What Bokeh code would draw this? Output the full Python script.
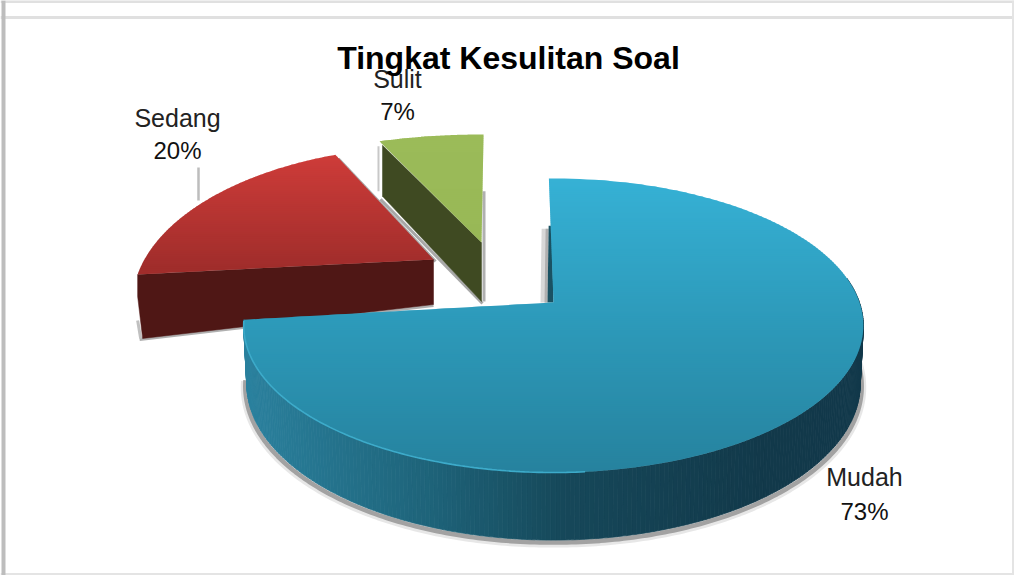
import numpy as np
from bokeh.plotting import figure
from bokeh.models import Range1d, Span
from bokeh.core.properties import value
from bokeh.embed import file_html
from bokeh.resources import INLINE

# ---- data ----
title_text = "Tingkat Kesulitan Soal"
categories = ["Mudah", "Sedang", "Sulit"]
shares = [73.4, 19.6, 7.0]
pct_labels = ["73%", "20%", "7%"]

# ---- pie geometry (style) ----
START = -1.0
geom = {
    "Mudah":  dict(cx=553, cy=302, a=306, b=143.4, k=0.1565, twist=0),
    "Sedang": dict(cx=433, cy=259, a=289, b=145, k=0.28, twist=1),
    "Sulit":  dict(cx=481, cy=242, a=355, b=162, k=0.5, twist=1.5),
}
face_stops = {
    "Mudah": ([178, 320, 472], ["#36b1d5", "#2d9aba", "#26829e"]),
    "Sedang": ([156, 268], ["#cd3c39", "#a02d2b"]),
    "Sulit": ([134, 242], ["#9bbb59", "#98b856"]),
}
WALL_X = [247, 430, 560, 760, 862]
WALL_C = ["#2a809d", "#1e6379", "#16485a", "#12394a", "#12384a"]


def hex2rgb(c):
    return [int(c[i:i + 2], 16) for i in (1, 3, 5)]


def ramp(t, xs, cols):
    rgb = np.array([hex2rgb(c) for c in cols], float)
    v = [np.interp(t, xs, rgb[:, i]) for i in range(3)]
    return "#%02x%02x%02x" % tuple(int(round(x)) for x in v)


def project(theta_deg, r, g):
    th = np.radians(np.asarray(theta_deg, float) + g["twist"])
    u, v = r * np.sin(th), r * np.cos(th)
    w = 1 + g["k"] * v
    return g["cx"] + g["a"] * u / w, g["cy"] - g["b"] * v / w


def clip_band(x, y, y0, y1):
    def clip(pts, keep, cross):
        out = []
        for i in range(len(pts)):
            p, q = pts[i], pts[(i + 1) % len(pts)]
            if keep(p):
                out.append(p)
            if keep(p) != keep(q):
                t = (cross - p[1]) / (q[1] - p[1])
                out.append((p[0] + t * (q[0] - p[0]), cross))
        return out
    pts = list(zip(x, y))
    pts = clip(pts, lambda p: p[1] >= y0, y0)
    if pts:
        pts = clip(pts, lambda p: p[1] <= y1, y1)
    return pts


def draw_face(p, name, th0, th1, band=2.0):
    g = geom[name]
    th = np.linspace(th0, th1, 160)
    rx, ry = project(th, 1.0, g)
    x = np.r_[g["cx"], rx]
    y = np.r_[g["cy"], ry]
    stops, cols = face_stops[name]
    xs, ys, fc = [], [], []
    yy = y.min()
    while yy < y.max():
        pts = clip_band(x, y, yy, yy + band + 0.8)
        if len(pts) >= 3:
            xs.append([q[0] for q in pts])
            ys.append([q[1] for q in pts])
            fc.append(ramp(yy + band / 2, stops, cols))
        yy += band
    p.patches(xs, ys, fill_color=fc, line_color=None)


p = figure(width=1014, height=575, x_range=Range1d(0, 1014), y_range=Range1d(575, 0),
           x_axis_type=None, y_axis_type=None, toolbar_location=None, output_backend="svg",
           min_border=0, outline_line_color=None, background_fill_color="white")
p.grid.visible = False

# slide frame
p.add_layout(Span(location=1, dimension="width", line_color="#e0e0e0", line_width=3))
p.add_layout(Span(location=17, dimension="width", line_color="#e0e0e0", line_width=3))
p.add_layout(Span(location=573.5, dimension="width", line_color="#e4e4e4", line_width=2))
p.add_layout(Span(location=3, dimension="height", line_color="#bdbdbd", line_width=4))
p.add_layout(Span(location=1012.5, dimension="height", line_color="#e4e4e4", line_width=2))

# slice boundaries follow the shares
edges = START + np.cumsum([0] + shares) * 3.6
span = {c: (edges[i], edges[i + 1]) for i, c in enumerate(categories)}

# ---- Sulit ----
g = geom["Sulit"]
t0, t1 = span["Sulit"]
lx, ly = project(t0, 1.0, g)
D = 59
p.line([g["cx"] + 2.5, g["cx"] + 2.5], [ly + 50, g["cy"] + D], line_color="#b0b0b0", line_width=3)
p.line([lx + 1, g["cx"] + 1], [ly + 58, g["cy"] + D + 2], line_color="#a8a8a8", line_width=3)
p.line([lx - 1, lx - 1], [ly + 5, ly + 50], line_color="#c8c8c8", line_width=2)
p.patch([lx + 3, g["cx"], g["cx"], lx + 3], [ly + 4, g["cy"], g["cy"] + D, ly + 55],
        fill_color="#3f4a22", line_color="#3f4a22", line_width=0.5)
draw_face(p, "Sulit", t0, t1)

# ---- Sedang ----
g = geom["Sedang"]
t0, t1 = span["Sedang"]
lx, ly = project(t0, 1.0, g)
tx, ty = project(t1, 1.0, g)
wall_bl = (lx + 5, ly + 64)
wall_br = (g["cx"], g["cy"] + 45)
p.line([tx + 3, g["cx"] + 2], [ty + 4, g["cy"] + 2], line_color="#a8a8a8", line_width=3)
p.line([wall_bl[0] - 3, wall_br[0]], [wall_bl[1] + 1, wall_br[1] + 1], line_color="#b0b0b0", line_width=3)
p.line([wall_bl[0] - 2, wall_bl[0] - 5], [wall_bl[1], wall_bl[1] - 18], line_color="#c0c0c0", line_width=3)
p.patch([lx, g["cx"], wall_br[0], wall_bl[0], lx],
        [ly, g["cy"], wall_br[1], wall_bl[1], ly + 22],
        fill_color="#4f1715", line_color="#4f1715", line_width=0.5)
draw_face(p, "Sedang", t0, t1)

# ---- Mudah ----
g = geom["Mudah"]
t0, t1 = span["Mudah"]
DEPTH = 57
th = np.linspace(80, t1, 240)
rx, ry = project(th, 1.0, g)
vv = np.cos(np.radians(th))
bx = g["cx"] + (rx - g["cx"]) * 0.99
by = ry + DEPTH / (1 + g["k"] * vv)
sgn = np.sign(bx - g["cx"])
p.line(bx + 2 * sgn, by + 3.5, line_color="#888888", line_width=8, line_alpha=0.2)
p.line(bx + 1.5 * sgn, by + 2.5, line_color="#a2a2a2", line_width=4.5)
wx, wy, wc = [], [], []
for i in range(len(th) - 1):
    wx.append([rx[i], rx[i + 1], bx[i + 1], bx[i]])
    wy.append([ry[i], ry[i + 1], by[i + 1], by[i]])
    wc.append(ramp((rx[i] + rx[i + 1]) / 2, WALL_X, WALL_C))
p.patches(wx, wy, fill_color=wc, line_color=wc, line_width=0.8)

# start-edge cut wall and its shadow
ex, ey = project(t0, 1.0, g)
f = 0.62
sx = g["cx"] + (ex - g["cx"]) * f
sy = g["cy"] + (ey - g["cy"]) * f
p.patch([sx - 9, sx - 3, g["cx"] - 6, g["cx"] - 13], [sy + 3, sy + 3, g["cy"], g["cy"]],
        fill_color="#d8d8d8", line_color=None)
p.patch([sx - 5, sx - 2, g["cx"] - 6, g["cx"] - 9], [sy + 3, sy + 3, g["cy"], g["cy"]],
        fill_color="#b0b0b0", line_color=None)
p.patch([sx - 2, sx + 1, g["cx"], g["cx"] - 6], [sy, sy, g["cy"], g["cy"]],
        fill_color="#1a5263", line_color=None)

draw_face(p, "Mudah", t0, t1)

# rim highlight on the front edge
hth = np.linspace(175, t1 - 0.5, 120)
hx, hy = project(hth, 1.0, g)
p.line(hx, hy, line_color="#3dabca", line_width=1.6)

# ---- leader line ----
p.line([198, 198], [167, 200], line_color="#bdbdbd", line_width=2.5)

# ---- labels ----
name_pos = {"Mudah": (864, 476), "Sedang": (177, 117), "Sulit": (397, 78)}
pct_pos = {"Mudah": (864, 511), "Sedang": (177, 150), "Sulit": (397, 111)}
p.text([name_pos[c][0] for c in categories], [name_pos[c][1] for c in categories], text=categories,
       text_font=value("Liberation Sans"), text_font_size="25px", text_color="#222222",
       text_align="center", text_baseline="alphabetic")
p.text([pct_pos[c][0] for c in categories], [pct_pos[c][1] for c in categories], text=pct_labels,
       text_font=value("Liberation Sans"), text_font_size="24px", text_color="#111111",
       text_align="center", text_baseline="alphabetic")
p.text([508], [57], text=[title_text], text_font=value("Liberation Sans"), text_font_size="32px",
       text_font_style="bold", text_color="#000000", text_align="center", text_baseline="alphabetic")

open("out.html", "w").write(file_html(p, INLINE))
